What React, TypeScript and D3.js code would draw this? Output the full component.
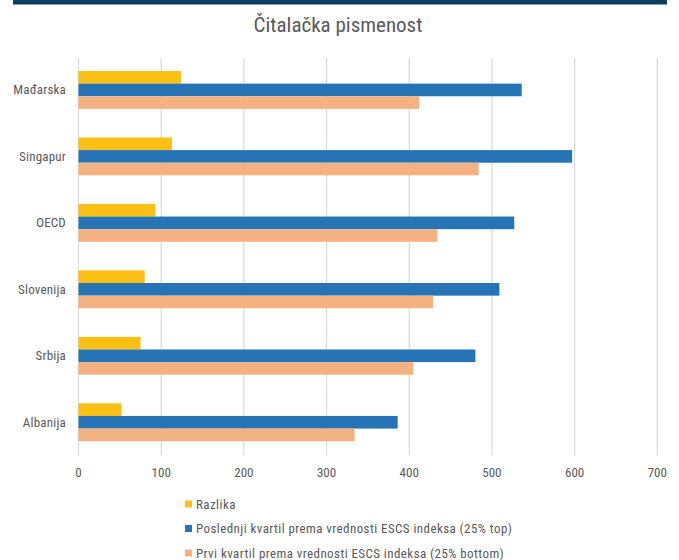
import React from "react";
import * as d3 from "d3";

const categories = ["Mađarska", "Singapur", "OECD", "Slovenija", "Srbija", "Albanija"];
const seriesNames = [
  "Razlika",
  "Poslednji kvartil prema vrednosti ESCS indeksa (25% top)",
  "Prvi kvartil prema vrednosti ESCS indeksa (25% bottom)",
];
const razlika = [124, 113, 93, 80, 75, 52];
const topQuartile = [536, 597, 527, 509, 480, 386];
const bottomQuartile = [412, 484, 434, 429, 405, 334];
const xTicks = [0, 100, 200, 300, 400, 500, 600, 700];
const colors = ["#FBC013", "#2673B6", "#F4B283"];

const W = 679;
const H = 560;
const FONT = "'Liberation Sans Narrow', 'Roboto Condensed', Roboto, sans-serif";

export default function App() {
  const margin = { left: 78.5, right: 21.7, top: 56.7, bottom: 104.5 };
  const x = d3.scaleLinear().domain([0, 700]).range([margin.left, W - margin.right]);
  const y = d3
    .scaleBand<string>()
    .domain(categories)
    .range([margin.top, H - margin.bottom])
    .paddingInner(0.43)
    .paddingOuter(0.215);
  const inner = d3.scaleBand<number>().domain([0, 1, 2]).range([0, y.bandwidth()]);
  const series = [razlika, topQuartile, bottomQuartile];

  return (
    <svg width={W} height={H} style={{ position: "absolute", left: 0, top: 0, background: "#fff" }}>
      <rect x={13} y={0} width={654} height={4.5} fill="#0E3C5E" />
      <text x={338} y={32} textAnchor="middle" fontFamily={FONT} fontSize={21} fill="#595959">
        Čitalačka pismenost
      </text>
      {xTicks.map((t) => (
        <line key={t} x1={x(t)} x2={x(t)} y1={58} y2={H - margin.bottom} stroke="#D9D9D9" strokeWidth={1.2} />
      ))}
      {categories.map((c, i) => (
        <g key={c}>
          {series.map((s, k) => (
            <rect
              key={k}
              x={x(0)}
              y={(y(c) as number) + (inner(k) as number)}
              width={x(s[i]) - x(0)}
              height={inner.bandwidth()}
              fill={colors[k]}
            />
          ))}
          <text
            x={66}
            y={(y(c) as number) + y.bandwidth() / 2}
            dy="0.35em"
            textAnchor="end"
            fontFamily={FONT}
            fontSize={13}
            letterSpacing={0.2}
            fill="#595959"
          >
            {c}
          </text>
        </g>
      ))}
      {xTicks.map((t) => (
        <text key={t} x={x(t)} y={472} dy="0.35em" textAnchor="middle" fontFamily={FONT} fontSize={13} fill="#595959">
          {t}
        </text>
      ))}
      {seriesNames.map((n, k) => (
        <g key={n} transform={`translate(185, ${504 + k * 24.5})`}>
          <rect x={0} y={-3.5} width={7} height={7} fill={colors[k]} />
          <text x={11} y={0} dy="0.35em" fontFamily={FONT} fontSize={13} letterSpacing={0.42} fill="#595959">
            {n}
          </text>
        </g>
      ))}
    </svg>
  );
}
